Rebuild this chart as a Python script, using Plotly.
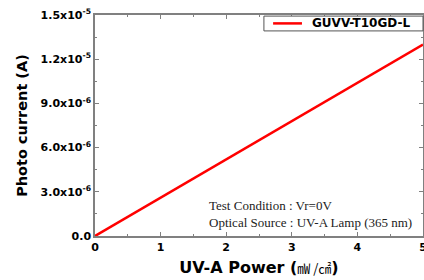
import plotly.graph_objects as go

# data
power = [0, 5]
current = [0, 1.3e-5]
series_name = "GUVV-T10GD-L"

y_tickvals = [0, 3e-6, 6e-6, 9e-6, 1.2e-5, 1.5e-5]
y_ticktext = ["0.0", "3.0x10<sup>-6</sup>", "6.0x10<sup>-6</sup>", "9.0x10<sup>-6</sup>",
              "1.2x10<sup>-5</sup>", "1.5x10<sup>-5</sup>"]
x_tickvals = [0, 1, 2, 3, 4, 5]

BOLD = "DejaVu Sans"

fig = go.Figure()
fig.add_trace(go.Scatter(x=power, y=current, mode="lines", name=series_name, showlegend=False,
                         line=dict(color="#ff0000", width=2.5)))

axis_common = dict(showline=True, linecolor="#808080", linewidth=1.5, mirror="ticks",
                   ticks="inside", ticklen=4, tickcolor="#808080", showgrid=False, zeroline=False,
                   automargin=False, ticklabeloverflow="allow",
                   tickfont=dict(family=BOLD, size=11, color="black", weight="bold"))

fig.update_xaxes(range=[0, 5], tickvals=x_tickvals,
                 minor=dict(ticks="inside", ticklen=2, tickcolor="#808080", dtick=0.5),
                 title=dict(text="<b>UV-A Power (</b><span style='font-family:Noto Sans CJK KR;font-size:13px'>㎽ /㎠</span><b>)</b>",
                            font=dict(family=BOLD, size=16, color="black"),
                            standoff=9),
                 **axis_common)
fig.update_yaxes(range=[0, 1.5e-5], tickvals=y_tickvals, ticktext=y_ticktext,
                 minor=dict(ticks="inside", ticklen=2, tickcolor="#808080", dtick=1.5e-6),
                 title=dict(text="<b>Photo current (A)</b>",
                            font=dict(family=BOLD, size=14.5, color="black"),
                            standoff=10),
                 **axis_common)

fig.add_annotation(x=0.342, y=0.136, xref="paper", yref="paper", xanchor="left", yanchor="middle",
                   text="Test Condition : Vr=0V", showarrow=False,
                   font=dict(family="Liberation Serif, Times New Roman", size=13, color="#222222"))
fig.add_annotation(x=0.342, y=0.06, xref="paper", yref="paper", xanchor="left", yanchor="middle",
                   text="Optical Source : UV-A Lamp (365 nm)", showarrow=False,
                   font=dict(family="Liberation Serif, Times New Roman", size=13, color="#222222"))

# legend box drawn by hand (compact, like the reference)
fig.add_shape(type="rect", xref="paper", yref="paper", x0=0.515, x1=1.0, y0=0.928, y1=0.995,
              line=dict(color="#555555", width=1), fillcolor="white", layer="above")
fig.add_shape(type="line", xref="paper", yref="paper", x0=0.543, x1=0.631, y0=0.962, y1=0.962,
              line=dict(color="#ff0000", width=2.5), layer="above")
fig.add_annotation(x=0.655, y=0.962, xref="paper", yref="paper", xanchor="left", yanchor="middle",
                   text="<b>" + series_name + "</b>", showarrow=False,
                   font=dict(family=BOLD, size=12, color="black"))

fig.update_layout(
    width=424, height=280,
    margin=dict(l=95, r=1, t=15, b=44),
    paper_bgcolor="white", plot_bgcolor="white",
)

fig.write_html("out.html", config={"displayModeBar": False},
               post_script="document.body.style.margin='0';")
